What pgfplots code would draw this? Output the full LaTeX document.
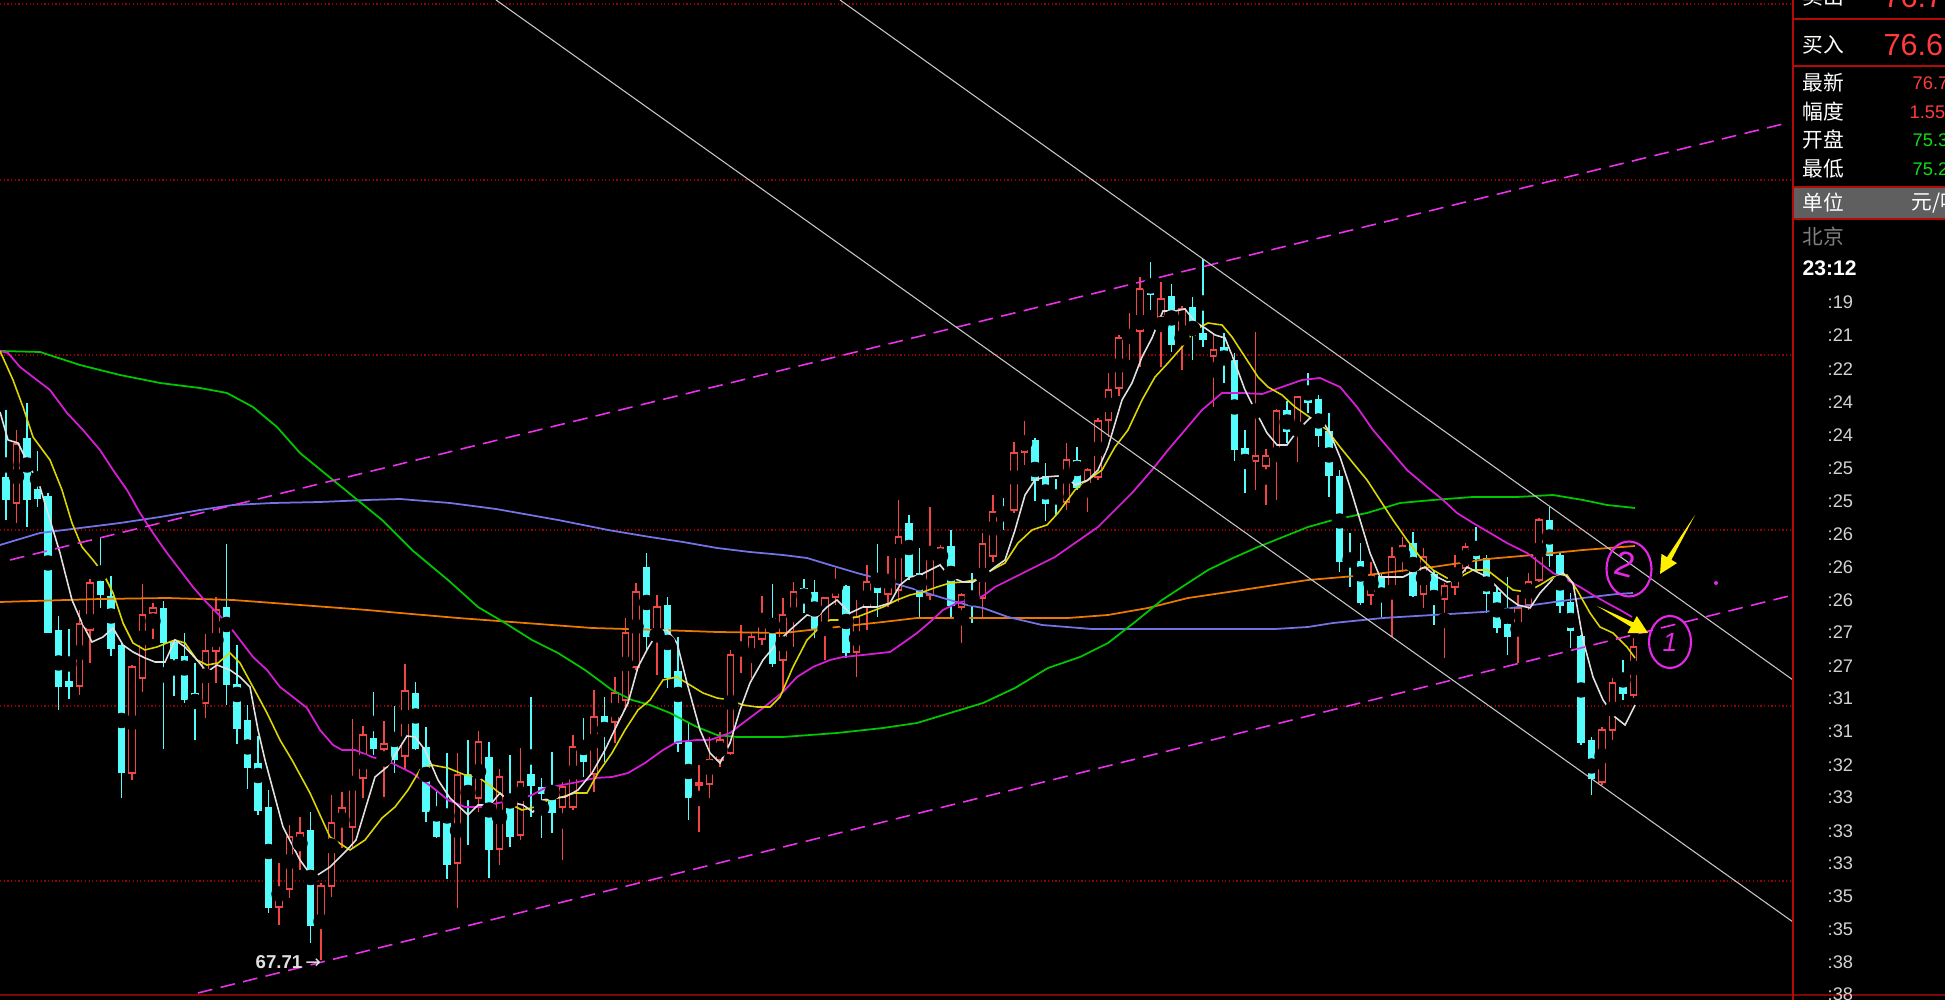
\documentclass[border=0pt]{standalone}
\usepackage{pgfplots}
\pgfplotsset{compat=1.18}
\usepackage{pgfplotstable}
\usepackage{fontspec}
\setmainfont{Liberation Sans}
\newfontfamily\cjk{Noto Sans CJK SC}
\newfontfamily\dejavu{DejaVu Sans}

\definecolor{kred}{RGB}{240,70,70}
\definecolor{kcyan}{RGB}{84,252,252}
\definecolor{mawhite}{RGB}{225,225,225}
\definecolor{mayellow}{RGB}{220,215,0}
\definecolor{mamag}{RGB}{215,30,215}
\definecolor{magreen}{RGB}{0,200,0}
\definecolor{mablue}{RGB}{115,115,230}
\definecolor{maorange}{RGB}{235,120,0}
\definecolor{tlmag}{RGB}{235,50,235}
\definecolor{tlwhite}{RGB}{200,200,200}
\definecolor{gridred}{RGB}{150,0,0}
\definecolor{panelred}{RGB}{180,10,10}
\definecolor{bandgray}{RGB}{95,95,95}
\definecolor{pgreen}{RGB}{20,220,20}
\definecolor{pred}{RGB}{255,60,60}
\definecolor{arrowyellow}{RGB}{255,240,0}
\definecolor{handmag}{RGB}{230,40,230}
\definecolor{timegray}{RGB}{210,210,210}

\tikzset{tl/.style={anchor=west, inner sep=0pt, text=timegray, font=\fontsize{5.2}{6}\selectfont}}

% candle data: pixel rows of open/high/low/close (screen y, larger = lower price)
\pgfplotstableread{
i o h l c
0 478 410 520 499
1 503 430 523 444
2 439 403 527 499
3 490 451 507 498
4 497 493 633 632
5 631 616 710 686
6 682 629 699 686
7 686 610 695 624
8 630 579 663 583
9 582 538 608 594
10 597 576 656 648
11 646 643 798 772
12 773 665 780 667
13 678 584 692 615
14 613 603 639 608
15 609 601 749 642
16 643 640 696 658
17 657 633 703 699
18 694 663 740 705
19 703 634 718 651
20 651 597 683 610
21 608 544 705 684
22 685 645 744 728
23 721 705 789 767
24 764 736 815 810
25 808 790 913 907
26 907 863 925 894
27 889 825 898 837
28 842 817 870 833
29 831 812 943 925
30 925 883 960 886
31 886 795 897 823
32 814 792 848 808
33 827 719 848 779
34 778 726 798 735
35 739 692 755 748
36 749 721 797 744
37 743 706 773 759
38 756 664 770 691
39 694 682 750 748
40 748 727 822 811
41 811 790 838 836
42 822 753 879 864
43 863 753 908 775
44 775 740 845 798
45 798 731 812 742
46 758 742 878 849
47 849 769 865 777
48 805 755 847 836
49 835 748 840 782
50 775 697 817 785
51 788 778 838 793
52 790 752 833 812
53 807 782 860 787
54 807 735 810 747
55 744 718 777 761
56 774 690 792 717
57 717 697 762 723
58 722 677 743 693
59 700 618 710 633
60 667 583 670 592
61 568 553 652 636
62 630 595 675 607
63 606 597 688 677
64 672 637 752 743
65 743 723 820 797
66 785 765 832 783
67 784 737 798 760
68 760 732 767 740
69 753 650 755 655
70 655 625 673 649
71 650 633 678 637
72 639 596 645 622
73 619 584 667 663
74 660 598 690 615
75 613 582 647 592
76 589 579 613 594
77 593 580 638 628
78 629 597 660 598
79 597 568 605 589
80 587 585 658 652
81 652 600 677 617
82 607 565 630 582
83 583 544 617 592
84 594 556 607 588
85 590 500 602 537
86 524 515 580 576
87 574 548 617 596
88 595 507 600 560
89 561 545 567 548
90 547 530 617 605
91 607 593 643 595
92 596 573 623 599
93 598 533 617 544
94 556 495 562 512
95 509 498 530 512
96 510 442 513 453
97 452 421 465 442
98 441 438 501 480
99 477 463 521 503
100 500 479 515 502
101 502 443 510 460
102 461 447 490 487
103 485 468 512 470
104 477 418 480 421
105 420 373 437 390
106 388 335 396 338
107 339 313 360 331
108 331 277 367 289
109 289 262 310 294
110 317 282 367 299
111 297 284 352 344
112 344 306 370 309
113 308 297 360 335
114 334 259 347 339
115 356 333 407 350
116 348 333 383 363
117 361 353 461 449
118 449 430 493 463
119 461 332 490 456
120 466 449 505 456
121 456 409 500 411
122 411 401 443 431
123 430 396 462 397
124 397 373 413 402
125 400 395 447 435
126 432 413 497 475
127 477 470 572 561
128 561 533 587 563
129 562 543 605 602
130 595 562 605 575
131 577 573 617 588
132 589 547 637 557
133 558 537 572 546
134 544 532 597 595
135 594 548 608 557
136 575 570 625 599
137 599 583 658 586
138 587 555 595 569
139 568 543 572 547
140 546 527 570 558
141 559 555 613 593
142 593 587 633 627
143 625 577 655 636
144 633 595 663 608
145 605 573 610 582
146 580 518 582 520
147 521 507 567 555
148 556 553 613 605
149 603 593 648 630
150 637 635 745 742
151 741 737 795 778
152 782 727 785 730
153 730 678 740 683
154 683 660 700 693
155 695 638 698 647
}\kdata

\begin{document}
\begin{tikzpicture}
\fill[black] (0,0) rectangle (19.45,10);
\begin{axis}[
  at={(0,0)}, anchor=south west,
  width=19.45cm, height=10cm, scale only axis,
  xmin=0, xmax=1945, ymin=0, ymax=1000, y dir=reverse,
  axis lines=none, ticks=none, clip=true,
]
% grid lines
\addplot[gridred, line width=0.35pt, dash pattern=on 0.35pt off 0.7pt, forget plot] coordinates {(0,4) (1793,4)};
\addplot[gridred, line width=0.35pt, dash pattern=on 0.35pt off 0.7pt, forget plot] coordinates {(0,180) (1793,180)};
\addplot[gridred, line width=0.35pt, dash pattern=on 0.35pt off 0.7pt, forget plot] coordinates {(0,355) (1793,355)};
\addplot[gridred, line width=0.35pt, dash pattern=on 0.35pt off 0.7pt, forget plot] coordinates {(0,530) (1793,530)};
\addplot[gridred, line width=0.35pt, dash pattern=on 0.35pt off 0.7pt, forget plot] coordinates {(0,706) (1793,706)};
\addplot[gridred, line width=0.35pt, dash pattern=on 0.35pt off 0.7pt, forget plot] coordinates {(0,881) (1793,881)};
\addplot[panelred!70!black, line width=0.8pt, forget plot] coordinates {(0,995) (1945,995)};

% down (cyan) candles: wick then body
\addplot[only marks, mark=none, forget plot,
  restrict expr to domain={\thisrow{c}-\thisrow{o}}{0.5:5000},
  error bars/.cd, y dir=both, y explicit, error mark=none,
  error bar style={draw=kcyan, line width=0.35pt}]
  table[x expr=6+10.5*\thisrow{i}, y expr=(\thisrow{h}+\thisrow{l})/2, y error expr=(\thisrow{l}-\thisrow{h})/2] {\kdata};
\addplot[kcyan, line width=2.1pt, forget plot,
  restrict expr to domain={\thisrow{c}-\thisrow{o}}{0.5:5000},
  quiver={u=0, v=\thisrow{c}-\thisrow{o}+1.6}]
  table[x expr=6+10.5*\thisrow{i}, y expr=\thisrow{o}-0.8] {\kdata};

% up (red, hollow) candles
\addplot[only marks, mark=none, forget plot,
  restrict expr to domain={\thisrow{o}-\thisrow{c}}{0:5000},
  error bars/.cd, y dir=both, y explicit, error mark=none,
  error bar style={draw=kred, line width=0.35pt}]
  table[x expr=6+10.5*\thisrow{i}, y expr=(\thisrow{h}+\thisrow{l})/2, y error expr=(\thisrow{l}-\thisrow{h})/2] {\kdata};
\addplot[kred, line width=2.1pt, forget plot,
  restrict expr to domain={\thisrow{o}-\thisrow{c}}{0:5000},
  quiver={u=0, v=\thisrow{o}-\thisrow{c}+1.8}]
  table[x expr=6+10.5*\thisrow{i}, y expr=\thisrow{c}-0.9] {\kdata};
\addplot[black, line width=1.45pt, forget plot,
  restrict expr to domain={\thisrow{o}-\thisrow{c}}{2.3:5000},
  quiver={u=0, v=\thisrow{o}-\thisrow{c}-2.2}]
  table[x expr=6+10.5*\thisrow{i}, y expr=\thisrow{c}+1.1] {\kdata};

% moving averages (traced)
\addplot[maorange, line width=0.5pt] coordinates {(0,602) (33,601) (100,599) (167,598) (233,600) (300,605) (367,610) (400,613) (458,618) (525,623) (592,628) (660,630) (717,632) (783,633) (837,627) (883,622) (917,618) (975,618) (1068,618) (1108,615) (1148,608) (1188,598) (1242,590) (1308,580) (1367,575) (1433,567) (1487,559) (1533,555) (1583,550) (1635,546)};
\addplot[mablue, line width=0.5pt] coordinates {(0,545) (40,533) (80,528) (120,523) (160,517) (200,510) (233,505) (273,503) (320,502) (367,500) (400,499) (450,503) (496,509) (558,520) (608,530) (650,537) (683,542) (717,548) (750,552) (783,555) (807,558) (830,565) (857,573) (883,580) (917,590) (943,598) (967,605) (983,608) (1008,617) (1042,625) (1092,629) (1175,629) (1275,629) (1308,627) (1333,623) (1383,618) (1433,615) (1483,612) (1533,605) (1583,598) (1617,594) (1633,593)};
\addplot[magreen, line width=0.5pt] coordinates {(0,351) (40,352) (80,365) (120,375) (160,383) (200,388) (227,393) (253,407) (277,427) (300,453) (333,480) (360,502) (382,520) (412,550) (448,580) (478,607) (505,623) (532,640) (558,653) (585,670) (612,690) (632,700) (650,705) (670,713) (697,727) (717,735) (737,737) (783,737) (837,733) (883,728) (917,723) (950,713) (983,703) (1015,688) (1048,668) (1080,657) (1108,643) (1135,622) (1162,600) (1185,585) (1208,570) (1233,558) (1258,547) (1283,537) (1308,527) (1333,520) (1367,513) (1400,503) (1433,500) (1473,497) (1517,497) (1553,495) (1583,500) (1607,505) (1635,508)};
\addplot[mamag, line width=0.5pt] coordinates {(0,351) (8,353) (20,367) (33,377) (50,390) (67,413) (83,430) (100,450) (113,470) (127,490) (140,513) (153,533) (167,553) (180,570) (193,587) (207,603) (227,623) (240,640) (253,657) (267,670) (280,687) (293,697) (307,708) (320,730) (333,745) (342,750) (355,750) (372,757) (392,763) (412,773) (432,787) (448,800) (465,807) (482,807) (498,803) (515,800) (532,795) (545,788) (562,785) (578,782) (595,778) (612,777) (628,773) (645,763) (663,750) (677,742) (697,740) (710,740) (730,733) (743,723) (763,708) (783,692) (797,677) (813,667) (830,660) (843,657) (863,655) (890,652) (903,643) (917,633) (930,622) (943,610) (957,603) (970,600) (983,596) (995,587) (1015,577) (1035,567) (1055,557) (1075,543) (1098,527) (1115,510) (1132,493) (1152,470) (1168,450) (1185,430) (1202,410) (1222,393) (1242,393) (1262,394) (1282,387) (1302,380) (1320,378) (1340,387) (1357,407) (1373,430) (1390,450) (1407,470) (1427,487) (1443,500) (1457,513) (1473,523) (1490,533) (1507,543) (1527,553) (1540,563) (1553,573) (1567,580) (1580,587) (1593,595) (1607,603) (1620,610) (1632,617)};
\addplot[mayellow, line width=0.45pt] coordinates {(0,351) (13,380) (23,407) (33,437) (50,460) (62,490) (72,523) (82,547) (93,560) (103,573) (113,593) (123,623) (133,643) (145,650) (157,647) (167,643) (175,640) (185,643) (197,660) (207,665) (218,663) (230,653) (240,663) (253,687) (267,713) (280,740) (292,760) (310,793) (330,837) (350,850) (365,840) (382,818) (395,807) (408,790) (420,770) (432,765) (448,768) (465,775) (478,777) (492,787) (502,795) (512,805) (522,810) (535,807) (548,800) (562,797) (575,793) (587,793) (598,773) (612,753) (625,730) (638,710) (650,700) (663,680) (677,677) (690,685) (703,693) (717,698) (730,700) (743,705) (757,707) (770,707) (780,697) (793,667) (807,640) (820,627) (830,620) (843,620) (857,617) (870,612) (883,607) (897,600) (910,595) (923,592) (937,587) (950,583) (963,582) (975,580) (992,570) (1005,563) (1018,543) (1032,530) (1047,525) (1058,513) (1075,490) (1088,480) (1102,470) (1115,447) (1128,430) (1142,400) (1155,377) (1168,363) (1182,347) (1195,330) (1208,323) (1222,325) (1232,337) (1245,357) (1258,377) (1268,387) (1282,395) (1295,407) (1308,416) (1327,430) (1340,447) (1353,463) (1367,480) (1380,500) (1393,520) (1407,540) (1420,557) (1433,570) (1447,578) (1460,577) (1473,570) (1487,570) (1500,580) (1513,590) (1527,592) (1540,585) (1553,577) (1567,575) (1577,590) (1590,613) (1600,627) (1613,633) (1627,647) (1635,658)};
\addplot[mawhite, line width=0.45pt] coordinates {(0,412) (8,440) (18,443) (30,467) (40,487) (50,520) (60,553) (72,600) (82,623) (92,642) (103,637) (113,628) (123,645) (133,652) (145,658) (155,662) (165,662) (175,640) (185,647) (197,660) (207,672) (217,665) (230,670) (240,677) (250,687) (258,730) (265,760) (283,827) (300,860) (313,878) (330,867) (347,850) (356,840) (365,810) (375,777) (387,767) (395,755) (407,736) (415,737) (425,750) (438,780) (450,798) (468,815) (478,805) (490,805) (500,793) (510,802) (523,805) (533,812) (543,800) (555,798) (565,797) (578,790) (592,773) (605,750) (617,725) (628,703) (638,667) (648,648) (658,632) (667,630) (677,643) (687,683) (700,730) (710,753) (720,763) (730,743) (740,710) (750,683) (763,660) (777,643) (790,630) (807,615) (817,617) (827,607) (837,600) (850,613) (863,607) (877,607) (890,603) (900,585) (910,577) (920,575) (930,570) (940,565) (950,577) (963,582) (973,582) (985,575) (995,567) (1005,560) (1015,530) (1025,495) (1035,480) (1045,477) (1058,476) (1068,478) (1075,485) (1088,480) (1098,470) (1108,447) (1122,400) (1132,383) (1142,357) (1152,338) (1163,311) (1175,311) (1185,309) (1195,322) (1205,328) (1215,335) (1225,338) (1235,363) (1245,390) (1255,410) (1267,433) (1277,445) (1287,445) (1298,430) (1310,418) (1320,417) (1330,433) (1340,457) (1350,487) (1360,520) (1370,553) (1380,577) (1392,577) (1403,577) (1413,572) (1425,567) (1437,577) (1447,582) (1457,580) (1467,567) (1477,572) (1487,577) (1497,587) (1507,597) (1518,605) (1530,608) (1540,593) (1552,580) (1563,573) (1573,583) (1583,640) (1593,677) (1603,700) (1615,717) (1625,725) (1635,705)};

% trend lines
\addplot[tlmag, line width=0.45pt, dash pattern=on 4.2pt off 2.4pt] coordinates {(10,560) (1783,124)};
\addplot[tlmag, line width=0.45pt, dash pattern=on 4.2pt off 2.4pt] coordinates {(198,993) (1793,595)};
\addplot[tlwhite, line width=0.3pt] coordinates {(496,0) (1793,922)};
\addplot[tlwhite, line width=0.3pt] coordinates {(840,0) (1793,680)};

% annotations
\node[anchor=west, inner sep=0pt, text=mawhite, font=\bfseries\fontsize{5.3}{6}\selectfont] at (axis cs:255,962) {67.71\,{\dejavu\mdseries →}};
\draw[handmag, line width=0.6pt] (axis cs:1629,569) ellipse [x radius=0.225cm, y radius=0.275cm];
\draw[handmag, line width=0.6pt] (axis cs:1670,642) ellipse [x radius=0.21cm, y radius=0.26cm];
\node[text=handmag, inner sep=0pt, font=\fontsize{10}{11}\selectfont, rotate=-15] at (axis cs:1625,564) {2};
\node[text=handmag, inner sep=0pt, font=\itshape\fontsize{7.5}{8}\selectfont] at (axis cs:1670,642) {1};
\fill[handmag] (axis cs:1716,583) circle [radius=0.02cm];
\fill[arrowyellow] (axis cs:1597,606) -- (axis cs:1630.9,626.8) -- (axis cs:1627.4,633.2) -- (axis cs:1648,633) -- (axis cs:1636.8,616.0) -- (axis cs:1633.3,622.4) -- cycle;
\fill[arrowyellow] (axis cs:1695,515) -- (axis cs:1667.0,557.2) -- (axis cs:1661.5,553.9) -- (axis cs:1660,574) -- (axis cs:1677.0,563.1) -- (axis cs:1671.4,559.8) -- cycle;

% right panel
\fill[bandgray] (axis cs:1793,187) rectangle (axis cs:1945,219);
\draw[panelred, line width=0.55pt] (axis cs:1793,0) -- (axis cs:1793,1000);
\draw[panelred, line width=0.55pt] (axis cs:1793,19) -- (axis cs:1945,19);
\draw[panelred, line width=0.55pt] (axis cs:1793,66) -- (axis cs:1945,66);
\draw[panelred, line width=0.55pt] (axis cs:1793,187) -- (axis cs:1945,187);
\draw[panelred, line width=0.55pt] (axis cs:1793,219) -- (axis cs:1945,219);

\node[anchor=west, inner sep=0pt, text=white, font=\cjk\fontsize{5.9}{6}\selectfont] at (axis cs:1802,-3) {卖出};
\node[anchor=west, inner sep=0pt, text=pred, font=\fontsize{8.7}{9}\selectfont] at (axis cs:1883,-3) {76.7};
\node[anchor=west, inner sep=0pt, text=white, font=\cjk\fontsize{5.9}{6}\selectfont] at (axis cs:1802,45) {买入};
\node[anchor=west, inner sep=0pt, text=pred, font=\fontsize{8.7}{9}\selectfont] at (axis cs:1883,45) {76.6};
\node[anchor=west, inner sep=0pt, text=white, font=\cjk\fontsize{5.9}{6}\selectfont] at (axis cs:1802,83) {最新};
\node[anchor=west, inner sep=0pt, text=pred, font=\fontsize{5.2}{6}\selectfont] at (axis cs:1912,83) {76.7};
\node[anchor=west, inner sep=0pt, text=white, font=\cjk\fontsize{5.9}{6}\selectfont] at (axis cs:1802,112) {幅度};
\node[anchor=west, inner sep=0pt, text=pred, font=\fontsize{5.2}{6}\selectfont] at (axis cs:1909,112) {1.55};
\node[anchor=west, inner sep=0pt, text=white, font=\cjk\fontsize{5.9}{6}\selectfont] at (axis cs:1802,140) {开盘};
\node[anchor=west, inner sep=0pt, text=pgreen, font=\fontsize{5.2}{6}\selectfont] at (axis cs:1912,140) {75.3};
\node[anchor=west, inner sep=0pt, text=white, font=\cjk\fontsize{5.9}{6}\selectfont] at (axis cs:1802,169) {最低};
\node[anchor=west, inner sep=0pt, text=pgreen, font=\fontsize{5.2}{6}\selectfont] at (axis cs:1912,169) {75.2};
\node[anchor=west, inner sep=0pt, text=white, font=\cjk\fontsize{5.9}{6}\selectfont] at (axis cs:1802,203) {单位};
\node[anchor=west, inner sep=0pt, text=white, font=\cjk\fontsize{5.9}{6}\selectfont] at (axis cs:1911,203) {元/吨};
\node[anchor=west, inner sep=0pt, text=gray, font=\cjk\fontsize{5.9}{6}\selectfont] at (axis cs:1802,237) {北京};
\node[anchor=west, inner sep=0pt, text=white, font=\bfseries\fontsize{6}{7}\selectfont] at (axis cs:1802,268) {23:12};
\node[tl] at (axis cs:1827,302) {:19};
\node[tl] at (axis cs:1827,335) {:21};
\node[tl] at (axis cs:1827,369) {:22};
\node[tl] at (axis cs:1827,402) {:24};
\node[tl] at (axis cs:1827,435) {:24};
\node[tl] at (axis cs:1827,468) {:25};
\node[tl] at (axis cs:1827,501) {:25};
\node[tl] at (axis cs:1827,534) {:26};
\node[tl] at (axis cs:1827,567) {:26};
\node[tl] at (axis cs:1827,600) {:26};
\node[tl] at (axis cs:1827,632) {:27};
\node[tl] at (axis cs:1827,666) {:27};
\node[tl] at (axis cs:1827,698) {:31};
\node[tl] at (axis cs:1827,731) {:31};
\node[tl] at (axis cs:1827,765) {:32};
\node[tl] at (axis cs:1827,797) {:33};
\node[tl] at (axis cs:1827,831) {:33};
\node[tl] at (axis cs:1827,863) {:33};
\node[tl] at (axis cs:1827,896) {:35};
\node[tl] at (axis cs:1827,929) {:35};
\node[tl] at (axis cs:1827,962) {:38};
\node[tl] at (axis cs:1827,994) {:38};
\end{axis}
\pgfresetboundingbox
\useasboundingbox (0,0) rectangle (19.45,10);
\end{tikzpicture}
\end{document}
